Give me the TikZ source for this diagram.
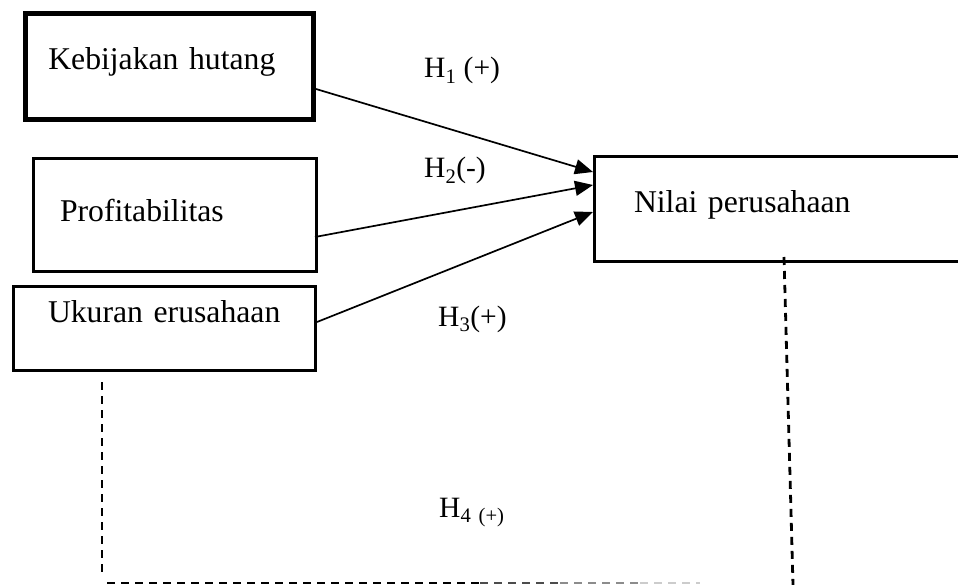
\documentclass[tikz,border=0pt]{standalone}
\usepackage{fontspec}
\setmainfont{Liberation Serif}
\usepackage{tikz}
\usetikzlibrary{arrows.meta,positioning}

\begin{document}
\begin{tikzpicture}[x=1pt,y=-1pt]
	\tikzstyle{Box}		= [rectangle, draw, line width=3pt, anchor=north west, inner ysep=0pt, align=left, font=\fontsize{31.7}{38}\selectfont]
	\tikzstyle{Thick}	= [line width=5pt]
	\tikzstyle{Hyp}		= [anchor=base west, inner sep=0pt, font=\fontsize{29.5}{34}\selectfont]
	\tikzstyle{Arr}		= [line width=1.7pt, -{Triangle[length=18pt,width=15pt]}]
	\tikzstyle{DashLine}	= [line width=2.8pt, dash pattern=on 8pt off 6pt]

	\useasboundingbox (0,0) rectangle (958,585);

	\node (kh) at (23,11) [Box][Thick] [inner xsep=22.8pt, text width=242.4pt, text height=56pt, text depth=50pt] {Kebijakan hutang};
	\node (pr) at (32,157) [Box] [inner xsep=26.5pt, text width=230pt, text height=63pt, text depth=50pt] {Profitabilitas};
	\node (uk) at (12,285) [Box] [inner xsep=34.5pt, text width=233pt, text height=36pt, text depth=48pt] {Ukuran erusahaan};
	\node (np) at (593,155) [Box] [inner xsep=39.5pt, text width=336.5pt, text height=56pt, text depth=49pt] {Nilai perusahaan};

	\node (h1) at (424,78) [Hyp] {H\textsubscript{1} (+)};
	\node (h2) at (424,178) [Hyp] {H\textsubscript{2}(-)};
	\node (h3) at (438,326) [Hyp] {H\textsubscript{3}(+)};
	\node (h4) at (439,517) [Hyp] {H\textsubscript{4} \textsubscript{(+)}};

	\coordinate (d1) at (102,382);
	\coordinate (d2) at (102,572);
	\coordinate (d3) at (107,583);
	\coordinate (d4) at (480,583);
	\coordinate (d5) at (560,583);
	\coordinate (d6) at (640,583);
	\coordinate (d7) at (700,583);
	\coordinate (n1) at (784,257);
	\coordinate (n2) at (793,585);

	\draw [Arr] ([yshift=-22.5pt]kh.east) to ([yshift=37pt]np.west);
	\draw [Arr] ([xshift=-3pt, yshift=-22pt]pr.east) to ([yshift=24pt]np.west);
	\draw [Arr] ([yshift=6.5pt]uk.east) to ([yshift=-3pt]np.west);

	\draw [DashLine] (d1) to (d2);
	\draw [DashLine] (d3) to (d4);
	\draw [DashLine, black!70] (d4) to (d5);
	\draw [DashLine, black!45] (d5) to (d6);
	\draw [DashLine, black!20] (d6) to (d7);
	\draw [DashLine] (n1) to (n2);
\end{tikzpicture}
\end{document}
